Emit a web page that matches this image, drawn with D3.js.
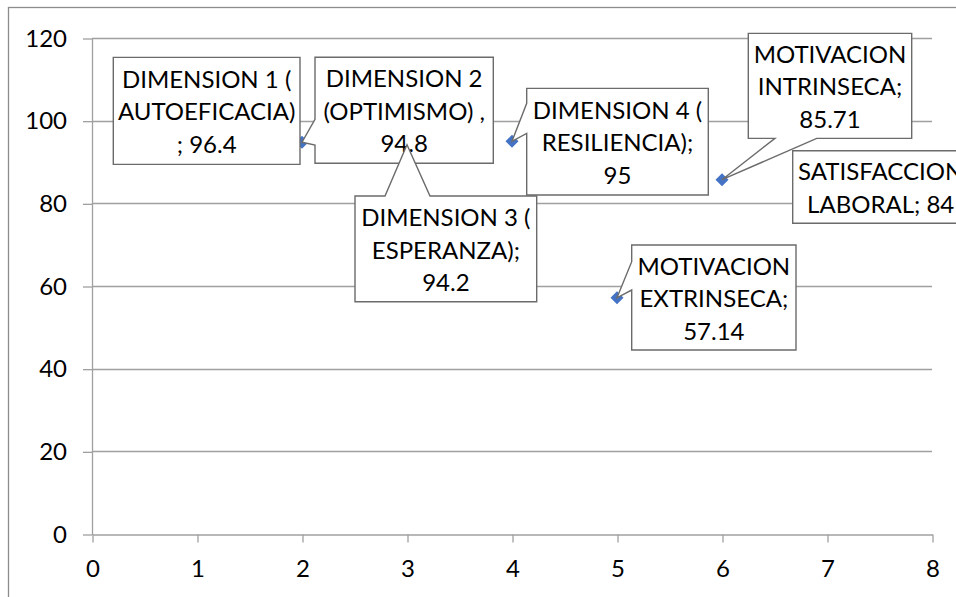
<!DOCTYPE html>
<html>
<head>
<meta charset="utf-8">
<script src="https://cdn.jsdelivr.net/npm/d3@7"></script>
<style>
  html, body { margin: 0; padding: 0; background: #fff; }
  svg { display: block; }
  text { font-family: Lato, "Open Sans", sans-serif; fill: #000; }
</style>
</head>
<body>
<svg id="chart" width="956" height="597"></svg>
<script>
// Scatter data: x position and score of each dimension
const xValues = [1, 2, 3, 4, 5, 6, 7];
const yValues = [96.4, 94.8, 94.2, 95, 57.14, 85.71, 84];
// Data label lines; {v} is replaced by the point's value
const labelLines = [
  ["DIMENSION 1 (", "AUTOEFICACIA)", "; {v}"],
  ["DIMENSION 2", "(OPTIMISMO) ,", "{v}"],
  ["DIMENSION 3 (", "ESPERANZA);", "{v}"],
  ["DIMENSION 4 (", "RESILIENCIA);", "{v}"],
  ["MOTIVACION", "EXTRINSECA;", "{v}"],
  ["MOTIVACION", "INTRINSECA;", "{v}"],
  ["SATISFACCION", "LABORAL; {v}"]
];
const xTicks = [0, 1, 2, 3, 4, 5, 6, 7, 8];
const yTicks = [0, 20, 40, 60, 80, 100, 120];

// Callout placement relative to each point (px): box offset/size and pointer base on one edge
const calloutLayout = [
  { dx: -83.7, dy: -78.2, w: 186.7, h: 107,   side: null },
  { dx: 13,    dy: -84.9, w: 178.3, h: 106,   side: "left",   a: 62,   b: 87.7 },
  { dx: -52,   dy: 51.4,  w: 181.7, h: 105.7, side: "top",    a: 30,   b: 75 },
  { dx: 14.7,  dy: -53,   w: 181.6, h: 106.7, side: "left",   a: 15,   b: 45 },
  { dx: 14.7,  dy: -52.8, w: 164.3, h: 105,   side: "left",   a: 16.7, b: 45 },
  { dx: 26.3,  dy: -146.4,w: 163.4, h: 105,   side: "bottom", a: 26.7, b: 68.4 },
  { dx: -34.3, dy: -36.1, w: 176,   h: 72.6,  side: null }
];

const svg = d3.select("#chart");
const gridColor = "#a0a0a0";
const fontSize = 24;

// chart area border
svg.append("rect")
  .attr("x", 8.5).attr("y", 7.5)
  .attr("width", 980).attr("height", 620)
  .attr("fill", "#fff").attr("stroke", "#8c8c8c").attr("stroke-width", 1.3);

const x = d3.scaleLinear().domain([0, 8]).range([92, 932]);
const y = d3.scaleLinear().domain([0, 120]).range([534, 38]);

// horizontal gridlines
svg.append("g")
  .selectAll("line")
  .data(yTicks.filter(t => t > 0))
  .join("line")
  .attr("x1", x(0)).attr("x2", x(8))
  .attr("y1", d => Math.round(y(d)) + 0.5).attr("y2", d => Math.round(y(d)) + 0.5)
  .attr("stroke", gridColor).attr("stroke-width", 1.3);

// y axis
const yAxis = svg.append("g")
  .attr("transform", `translate(${x(0)},0.5)`)
  .call(d3.axisLeft(y).tickValues(yTicks).tickSize(9).tickSizeOuter(0).tickPadding(16));
// x axis
const xAxis = svg.append("g")
  .attr("transform", `translate(0.5,${Math.round(y(0)) + 0.5})`)
  .call(d3.axisBottom(x).tickValues(xTicks).tickSize(8).tickSizeOuter(0).tickPadding(17));

[yAxis, xAxis].forEach(g => {
  g.selectAll("path.domain").attr("stroke", gridColor).attr("stroke-width", 1.3);
  g.selectAll(".tick line").attr("stroke", gridColor).attr("stroke-width", 1.3);
  g.selectAll(".tick text")
    .attr("font-family", "Lato, sans-serif")
    .attr("font-size", fontSize)
    .attr("fill", "#000");
});

// markers
const points = xValues.map((xv, i) => ({ x: xv, y: yValues[i], lines: labelLines[i], layout: calloutLayout[i] }));

svg.append("g")
  .selectAll("path")
  .data(points)
  .join("path")
  .attr("d", d3.symbol(d3.symbolSquare, 85))
  .attr("transform", d => `translate(${x(d.x)},${y(d.y)}) rotate(45)`)
  .attr("fill", "#4472c4");

// callout outline: rectangle with a wedge pointing at the marker
function calloutPath(px, py, L) {
  const x0 = px + L.dx, y0 = py + L.dy, x1 = x0 + L.w, y1 = y0 + L.h;
  const p = d3.path();
  p.moveTo(x0, y0);
  if (L.side === "top") {
    p.lineTo(x0 + L.a, y0); p.lineTo(px, py); p.lineTo(x0 + L.b, y0);
  }
  p.lineTo(x1, y0);
  p.lineTo(x1, y1);
  if (L.side === "bottom") {
    p.lineTo(x0 + L.b, y1); p.lineTo(px, py); p.lineTo(x0 + L.a, y1);
  }
  p.lineTo(x0, y1);
  if (L.side === "left") {
    p.lineTo(x0, y0 + L.b); p.lineTo(px, py); p.lineTo(x0, y0 + L.a);
  }
  p.closePath();
  return p.toString();
}

const lineGap = 32.5;
const labels = svg.append("g")
  .selectAll("g")
  .data(points)
  .join("g");

labels.append("path")
  .attr("d", d => calloutPath(x(d.x), y(d.y), d.layout))
  .attr("fill", "#fff")
  .attr("stroke", "#6b6b6b")
  .attr("stroke-width", 1.4)
  .attr("stroke-linejoin", "miter");

labels.each(function (d) {
  const L = d.layout;
  const cx = x(d.x) + L.dx + L.w / 2;
  const cy = y(d.y) + L.dy + L.h / 2 + 1;
  const n = d.lines.length;
  d3.select(this).selectAll("text")
    .data(d.lines.map(s => s.replace("{v}", String(d.y))))
    .join("text")
    .attr("x", cx)
    .attr("y", (s, i) => cy + (i - (n - 1) / 2) * lineGap + fontSize * 0.36)
    .attr("text-anchor", "middle")
    .attr("font-size", fontSize)
    .text(s => s);
});
</script>
</body>
</html>
